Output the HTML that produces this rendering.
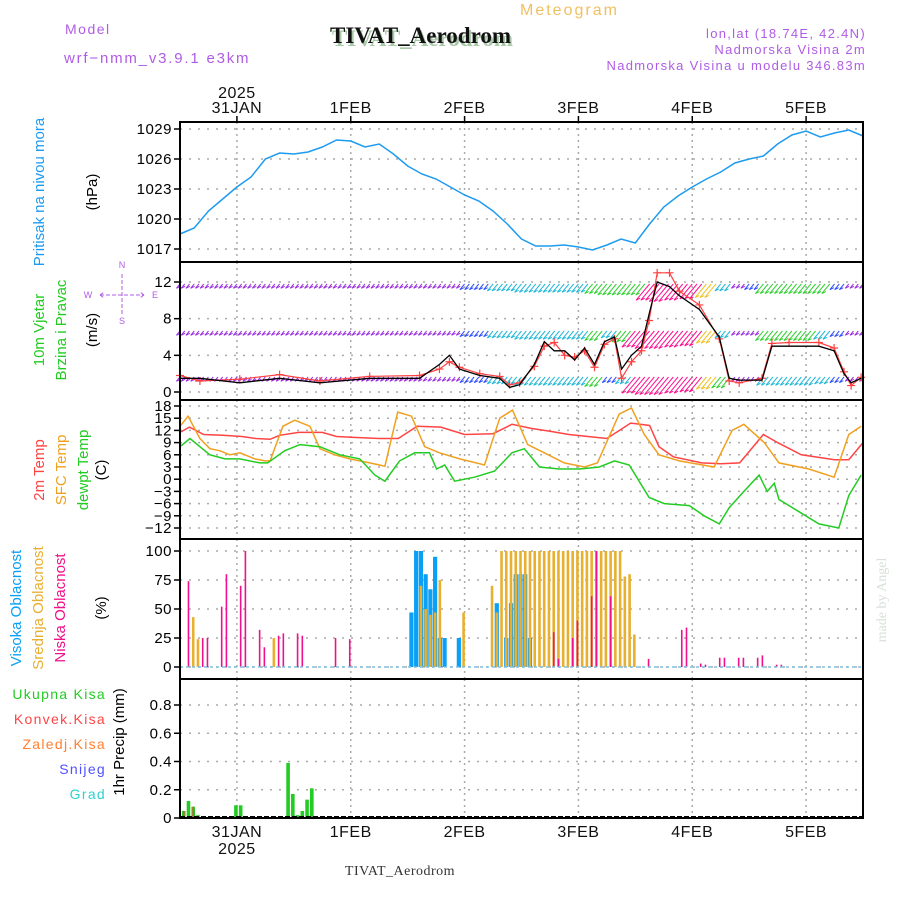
<!DOCTYPE html>
<html><head><meta charset="utf-8"><style>
body{margin:0;background:#fff;}
svg{display:block;font-family:"Liberation Sans",sans-serif;}
</style></head><body>
<svg id="chart" width="900" height="900" viewBox="0 0 900 900">
<text x="65" y="34" font-size="14" fill="#b05ce6" letter-spacing="1.5">Model</text>
<text x="64" y="63" font-size="15" fill="#b05ce6" letter-spacing="1.8">wrf−nmm_v3.9.1 e3km</text>
<text x="520" y="15" font-size="16" fill="#f0c060" letter-spacing="2">Meteogram</text>
<text x="332" y="46" font-size="23" font-weight="bold" font-family="Liberation Serif,serif" fill="#a8c8a8">TIVAT_Aerodrom</text>
<text x="330" y="43" font-size="23" font-weight="bold" font-family="Liberation Serif,serif" fill="#111">TIVAT_Aerodrom</text>
<g font-size="13" fill="#b05ce6" text-anchor="end" letter-spacing="1.3">
<text x="866" y="38">lon,lat (18.74E, 42.4N)</text>
<text x="866" y="54">Nadmorska Visina 2m</text>
<text x="866" y="70">Nadmorska Visina u modelu 346.83m</text>
</g>
<text x="400" y="875" font-size="14" font-family="Liberation Serif,serif" fill="#333" text-anchor="middle" letter-spacing="0.5">TIVAT_Aerodrom</text>
<text transform="translate(886,600) rotate(-90)" font-size="14" font-family="Liberation Serif,serif" fill="#d8e0d8" text-anchor="middle">made by Angel</text>
<g id="grid"></g><g id="marks"></g><g id="frames"></g><g id="labels"></g>
</svg>
<script>
// ---- data ----
const dayLabels=["31JAN","1FEB","2FEB","3FEB","4FEB","5FEB"];
const pressTicks=[1017,1020,1023,1026,1029];
const windTicks=[0,4,8,12];
const tempTicks=[-12,-9,-6,-3,0,3,6,9,12,15,18];
const cloudTicks=[0,25,50,75,100];
const precTicks=[0,0.2,0.4,0.6,0.8];
const pressure=[1018.5,1019.1,1020.8,1022,1023.2,1024.2,1026,1026.6,1026.5,1026.7,1027.2,1027.9,1027.8,1027.2,1027.5,1026.5,1025.3,1024.5,1024,1023.2,1022.4,1021.8,1020.8,1019.5,1018,1017.3,1017.3,1017.4,1017.2,1016.9,1017.4,1018,1017.6,1019.5,1021.2,1022.3,1023.2,1024,1024.7,1025.6,1026,1026.3,1027.5,1028.4,1028.8,1028.2,1028.6,1028.9,1028.3];
const t2Hours=[0,2,5,9,13,16,19,21,25,30,33,36,42,46,50,55,60,66,70,74,78,82,86,90,95,99,101,104,110,114,118,123,126,131,138,141,144];
const t2Vals=[11.5,12.8,11,10.8,10.5,10,9.8,10.8,11.5,11.5,10.5,10.3,10,10,13,12.8,11,11.2,13.5,12.5,11.8,11,10.5,10,13.8,13.2,8,5.5,4,3.8,4,11,9,6,4.8,4.8,9];
const sfcHours=[0,1.7,4.2,6.3,8.4,10.5,12.6,15.8,17.9,19,21.7,24.2,27.4,29.5,32.6,35.8,40,43.2,45.9,48.8,51.6,54.7,59,64.2,67.4,70.1,73.3,76.8,81,85.3,88,92.6,95.2,97.9,101,105.3,112.6,116.4,118.9,123.2,126.3,132.6,137.9,141,143.6];
const sfcVals=[13,15.5,10,7.5,7,6,6.5,5,4.5,4.5,13,14.5,13,7.5,6,5,4,3.2,16.5,15.5,8,6.5,5,3.5,15,17,8.5,6.5,4,3,4,16,17.5,11,6,4.5,3,12,13.5,9,4,2.5,0.5,11,13];
const dewHours=[0,2.1,4.2,6.3,9.5,12.6,16.8,18.5,22.1,25.3,29.5,33.7,37.9,41.1,43.2,46.3,49.5,52.6,54.1,55.8,57.9,62.1,66.3,70,72.6,75.8,80,84.2,88.4,91.6,94.7,98.9,102.1,107.4,110.5,113.7,115.8,118.9,122.1,123.8,125.3,126.3,130.5,134.7,138.9,141,143.6];
const dewVals=[8,10,8,6,5,5,4,4,7,8.5,8,6,5,1,-0.5,4.5,6.5,6.5,2.5,3.5,-0.5,0.5,2,6.5,7.5,3,2.5,2.5,3,4.5,3.5,-4.5,-6,-6.5,-9,-11,-7,-3,1,-3,-1,-5,-8,-11,-12,-4,1];
const windHours=[0,4.2,12.6,21,29.5,40,50.5,54.7,56.8,58.9,63.2,67.4,69.5,71.6,74.7,76.8,78.9,81.1,83.2,85.3,87.4,89.5,91.6,93.1,95.2,97.3,98.9,100.6,103.2,105.3,109.5,113.7,115.8,117.9,122.7,124.8,128.4,134.7,137.9,140,141.5,143.6];
const windSpeed=[1.5,1.5,1,1.5,1,1.5,1.5,3,4,2.5,1.8,1.5,0.5,0.8,3,5.5,4.5,4.5,3.5,4.8,3,5.5,6,2.5,4,5,8.5,12,11.5,10.5,9,6,1.5,1.3,1.3,5,5,5,4.5,2,1,1.5];
const windGust=[1.8,1.2,1.4,1.9,1.2,1.7,1.8,2.5,3.3,2.7,2,1.7,0.8,1,2.8,5,5.4,4,3.8,4.5,2.7,5.2,5.8,1.5,3.3,4.5,7.8,13,13,11,9.5,5.8,1.2,1,1.5,5.3,5.4,5.4,4.8,2.2,0.7,1.6];
const barbTop=[1,1,1,1,1,1,1,1,1,1,1,1,1,1,1,1,1,1,1,1,2,2,3,3,4,4,4,4,4,5,6,6,6,10,11,10,9,8,3,1,2,5,5,5,5,5,2,1,1];
const barbMid=[1,1,1,1,1,1,1,1,1,1,1,1,1,1,1,1,1,1,1,1,2,2,3,3,4,4,4,4,4,5,3,6,10,11,11,10,9,7,3,1,1,5,5,5,5,4,2,1,1];
const barbLow=[1,1,1,1,1,1,1,1,1,1,1,1,1,1,1,1,1,1,1,1,2,2,3,3,4,4,4,4,4,5,2,3,10,11,11,10,9,7,6,1,1,4,4,4,4,3,2,1,1];
const lowHours=[2,5,6,9,10,13,14,17,18,21,22,25,26,33,36,79,80,83,84,87,88,91,99,106,107,110,111,114,115,118,119,122,123,126,127];
const lowVals=[74,25,25,52,80,70,100,32,17,27,29,29,27,25,24,30,7,25,40,61,100,61,7,32,34,3,2,8,8,8,8,8,10,2,2];
const midHours=[3,4,20,51,52,53,54,55,60,66,67,68,69,70,71,72,73,74,75,76,77,78,79,80,81,82,83,84,85,86,87,88,89,90,91,92,93,94,95,96];
const midVals=[43,24,25,70,50,45,47,75,47,70,47,100,100,100,100,100,100,100,100,100,100,100,100,100,100,100,100,100,100,100,100,100,100,100,100,100,100,78,80,28];
const highHours=[49,50,51,52,53,54,55,56,59,67,69,70,71,72,73,74];
const highVals=[47,100,100,80,67,95,25,25,25,55,25,55,80,80,80,25];
const precHours=[1,2,3,4,12,13,23,24,25,26,27,28];
const precTotal=[0.05,0.12,0.08,0.02,0.09,0.09,0.39,0.17,0.02,0.05,0.13,0.21];
const precConv=[0.05,0,0.08,0,0,0,0,0,0,0,0,0];

// ---- layout ----
const NS="http://www.w3.org/2000/svg";
const X0=180,X1=863,HOURS=144;
const xh=h=>X0+(X1-X0)*h/HOURS;
const xDay=d=>xh(12+24*d);
function lin(v0,v1,p0,p1){return v=>p0+(v-v0)*(p1-p0)/(v1-v0);}
const yP=lin(1017,1029,249,129);
const yW=lin(0,12,392,282);
const yT=lin(-12,18,528,406);
const yC=lin(0,100,667,551);
const yR=lin(0,0.8,818,705);
const panels=[[122,262],[262,400],[400,539],[539,679],[679,818]];
function el(tag,attrs,parent){const e=document.createElementNS(NS,tag);for(const k in attrs)e.setAttribute(k,attrs[k]);document.getElementById(parent).appendChild(e);return e;}
function pathFrom(xs,ys){return xs.map((x,i)=>(i?"L":"M")+x.toFixed(1)+","+ys[i].toFixed(1)).join("");}

panels.forEach((p,pi)=>{
  dayLabels.forEach((d,i)=>{const g=el("line",{x1:xDay(i),x2:xDay(i),y1:p[0],y2:p[1],stroke:"#aaa","stroke-dasharray":"2,4","stroke-width":1.5},"grid");
  
  });
});
function hgrid(ticks,sc,fmt,name){ticks.forEach(t=>{const y=sc(t);
  const g=el("line",{x1:X0,x2:X1,y1:y,y2:y,stroke:"#aaa","stroke-dasharray":"2,7","stroke-width":1.5},"grid");
  
  
  const tk=el("line",{x1:X0-6,x2:X0,y1:y,y2:y,stroke:"#000","stroke-width":1.5},"frames");
  
  
  const tx=el("text",{x:X0-8,y:y+5,"text-anchor":"end","font-size":15,fill:"#000","letter-spacing":"0.5"},"labels");
  
  
  tx.textContent=fmt(t);});}
hgrid(pressTicks,yP,t=>t,"pressure");
hgrid(windTicks,yW,t=>t,"wind");
hgrid(tempTicks,yT,t=>t<0?"−"+(-t):t,"temp");
hgrid(cloudTicks,yC,t=>t,"cloud");
hgrid(precTicks,yR,t=>t===0?"0":t.toFixed(1),"precip");

let e=el("path",{d:pathFrom(pressure.map((v,i)=>xh(i*3)),pressure.map(yP)),fill:"none",stroke:"#1e9bf0","stroke-width":1.5},"marks");



function barbColor(s){return s<1.5?"#9b30e0":s<3?"#3050ff":s<5?"#20b8d8":s<7?"#30d030":s<9?"#f0c020":"#ff1090";}
function drawBarbs(arr,yRow,name){arr.forEach((s,i)=>{for(let k=0;k<3;k++){const h=i*3+k;if(h>HOURS)break;
  const x=xh(h),L=5+s*2.2,c=barbColor(s);
  const b=el("path",{d:`M${x},${yRow}L${x-L*0.5},${yRow+L*0.6}M${x-L*0.5},${yRow+L*0.6}l4,-2`,stroke:c,"stroke-width":1,fill:"none"},"marks");
  
  }});}
drawBarbs(barbTop,284,"wind-barb-upper");
drawBarbs(barbMid,331,"wind-barb-middle");
drawBarbs(barbLow,377,"wind-barb-lower");
e=el("path",{d:pathFrom(windHours.map(xh),windGust.map(yW)),fill:"none",stroke:"#ff4040","stroke-width":1.2},"marks");


windHours.forEach((h,i)=>{const x=xh(h),y=yW(windGust[i]);
  const c=el("path",{d:`M${x-4},${y}h8M${x},${y-4}v8`,stroke:"#ff4040","stroke-width":1.2},"marks");
  
  });
e=el("path",{d:pathFrom(windHours.map(xh),windSpeed.map(yW)),fill:"none",stroke:"#000","stroke-width":1.3},"marks");



[[t2Hours,t2Vals,"#ff4444","temp-2m-line"],[sfcHours,sfcVals,"#f0a020","temp-sfc-line"],[dewHours,dewVals,"#22cc22","dewpoint-line"]].forEach(s=>{
  const p=el("path",{d:pathFrom(s[0].map(xh),s[1].map(yT)),fill:"none",stroke:s[2],"stroke-width":1.5},"marks");
  
  });

function bars(hours,vals,sc,w,color,name){hours.forEach((h,i)=>{const x=xh(h)-1,y=sc(vals[i]),y0=sc(0);
  const r=el("rect",{x:x-w/2,y:y,width:w,height:y0-y,fill:color},"marks");
  
  });}
bars(highHours,highVals,yC,4.2,"#0aa0f5","high-cloud-bar");
bars(midHours,midVals,yC,2.6,"#e8b030","mid-cloud-bar");
bars(lowHours,lowVals,yC,1.6,"#f0108a","low-cloud-bar");
e=el("line",{x1:X0,x2:X1,y1:yC(0),y2:yC(0),stroke:"#80c0e0","stroke-width":1.5,"stroke-dasharray":"3,3"},"marks");



bars(precHours,precTotal,yR,3.6,"#22cc22","precip-total-bar");
bars(precHours,precConv,yR,1.6,"#ff4444","precip-convective-bar");
e=el("line",{x1:X0,x2:X1,y1:817,y2:817,stroke:"#000","stroke-width":2,"stroke-dasharray":"5,2"},"marks");



panels.forEach((p,i)=>{const r=el("rect",{x:X0,y:p[0],width:X1-X0,height:p[1]-p[0],fill:"none",stroke:"#000","stroke-width":2},"frames");
  
  });
dayLabels.forEach((d,i)=>{const x=xDay(i);
  const t1=el("text",{x:x,y:113,"text-anchor":"middle","font-size":16,fill:"#111","letter-spacing":"0.5"},"labels");
  
  
  t1.textContent=d;
  const tk=el("line",{x1:x,x2:x,y1:116,y2:122,stroke:"#000","stroke-width":1.5},"frames");
  
  
  const t2=el("text",{x:x,y:837,"text-anchor":"middle","font-size":16,fill:"#111","letter-spacing":"0.5"},"labels");
  
  
  t2.textContent=d;});
e=el("text",{x:xDay(0),y:98,"text-anchor":"middle","font-size":16,fill:"#111","letter-spacing":"0.5"},"labels");


e.textContent="2025";
e=el("text",{x:xDay(0),y:854,"text-anchor":"middle","font-size":16,fill:"#111","letter-spacing":"0.5"},"labels");


e.textContent="2025";

const vlabels=[["Pritisak na nivou mora",44,192,"#1e9bf0","pressure-title"],["(hPa)",97,192,"#000","pressure-unit"],
["10m Vjetar",44,330,"#22cc22","wind-title"],["Brzina i Pravac",66,330,"#22cc22","wind-subtitle"],["(m/s)",97,330,"#000","wind-unit"],
["2m Temp",44,470,"#ff4444","temp-2m-title"],["SFC Temp",66,470,"#f0a020","temp-sfc-title"],["dewpt Temp",88,470,"#22cc22","dewpoint-title"],["(C)",106,470,"#000","temp-unit"],
["Visoka Oblacnost",21,608,"#0aa0f5","high-cloud-title"],["Srednja Oblacnost",43,608,"#e8b030","mid-cloud-title"],["Niska Oblacnost",65,608,"#f0108a","low-cloud-title"],["(%)",106,608,"#000","cloud-unit"],
["1hr Precip (mm)",124,742,"#000","precip-title"]];
vlabels.forEach(v=>{const t=el("text",{transform:`translate(${v[1]},${v[2]}) rotate(-90)`,"text-anchor":"middle","font-size":15,fill:v[3]},"labels");
  
  
  t.textContent=v[0];});
const plabels=[["Ukupna  Kisa",699,"#22cc22","legend-total-rain"],["Konvek.Kisa",724,"#ff4444","legend-convective-rain"],["Zaledj.Kisa",749,"#ff8030","legend-freezing-rain"],["Snijeg",774,"#5050ff","legend-snow"],["Grad",799,"#30d0d0","legend-hail"]];
plabels.forEach(v=>{const t=el("text",{x:106,y:v[1],"text-anchor":"end","font-size":14,fill:v[2],"letter-spacing":"1.3"},"labels");
  
  
  t.textContent=v[0];});
const comp=[["N",122,268],["W",88,298],["E",155,298],["S",122,324]];
comp.forEach(c=>{const t=el("text",{x:c[1],y:c[2],"text-anchor":"middle","font-size":9,fill:"#b05ce6"},"labels");
  
  
  t.textContent=c[0];});
e=el("path",{d:"M100,295h44M122,274v42M100,295l4,-3M100,295l4,3M144,295l-4,-3M144,295l-4,3",stroke:"#b05ce6","stroke-width":1,fill:"none","stroke-dasharray":"4,2"},"labels");


</script>
</body></html>
